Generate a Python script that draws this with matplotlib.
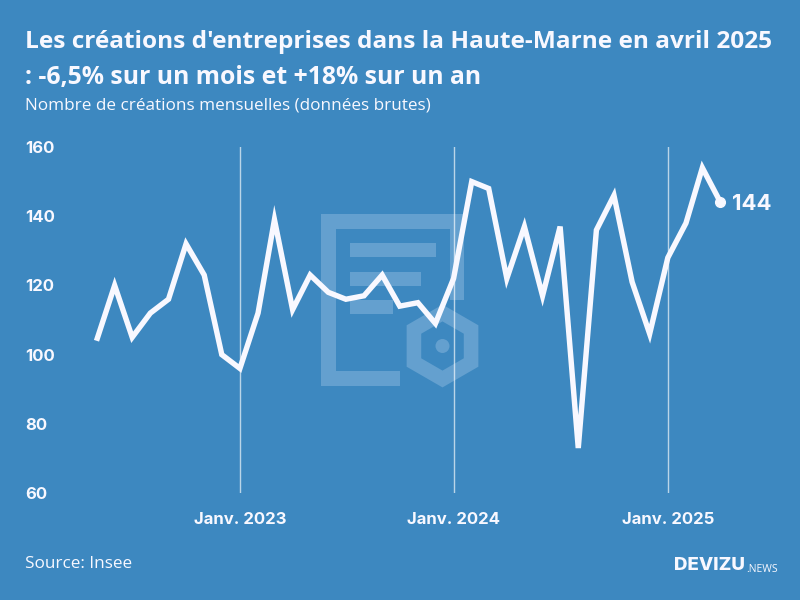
import pandas as pd
import matplotlib
matplotlib.use("Agg")
import matplotlib.pyplot as plt
from matplotlib.patches import Rectangle, RegularPolygon, Circle

months = pd.date_range("2022-05-01", periods=36, freq="MS")
creations = [104, 120, 105, 112, 116, 132, 123, 100, 96, 112, 139, 113,
             123, 118, 116, 117, 123, 114, 115, 109, 122, 150, 148, 122,
             137, 117, 137, 73, 136, 146, 121, 106, 128, 138, 154, 144]
y_ticks = [60, 80, 100, 120, 140, 160]
x_ticks = pd.to_datetime(["2023-01-01", "2024-01-01", "2025-01-01"])
x_labels = ["Janv. 2023", "Janv. 2024", "Janv. 2025"]

BG = "#3d88c0"
MARK = "#64a0cf"
WHITE = "#f8f8ff"
plt.rcParams["font.family"] = "Open Sans"

fig = plt.figure(figsize=(8, 6), dpi=100, facecolor=BG)

# watermark, in pixel coordinates
bg = fig.add_axes([0, 0, 1, 1])
bg.set_xlim(0, 800)
bg.set_ylim(600, 0)
bg.axis("off")
for x, y, w, h in [(321, 214, 143, 14.5), (321, 214, 14.5, 171), (321, 371, 79, 14.5),
                   (450, 214, 14, 86), (350, 243, 86, 14), (350, 271.5, 71, 14),
                   (350, 300, 43, 14)]:
    bg.add_patch(Rectangle((x, y), w, h, fc=MARK, ec="none"))
bg.add_patch(RegularPolygon((442.5, 346), 6, radius=33, fc="none", ec=MARK, lw=10.5, joinstyle="miter"))
bg.add_patch(Circle((442.5, 346), 7, fc=MARK, ec="none"))

ax = fig.add_axes([96.5 / 800, 1 - 493 / 600, 624 / 800, 346 / 600])
ax.patch.set_alpha(0)
ax.plot(months, creations, color=WHITE, lw=3.9, solid_joinstyle="miter", solid_capstyle="butt", clip_on=False, zorder=3)
ax.plot(months[-1], creations[-1], "o", color=WHITE, ms=7, clip_on=False, zorder=4)
ax.set_xlim(months[0], months[-1])
ax.set_ylim(60, 160)
ax.set_xticks(x_ticks, x_labels)
ax.set_yticks(y_ticks)
ax.grid(axis="x", color="white", alpha=0.65, lw=1)
ax.grid(axis="y", visible=False)
ax.tick_params(length=0)
ax.tick_params(axis="x", pad=13.5, labelsize=12, labelcolor=WHITE)
ax.tick_params(axis="y", pad=51, labelsize=12, labelcolor=WHITE)
for lab in ax.get_xticklabels() + ax.get_yticklabels():
    lab.set_family("Inter")
    lab.set_fontweight("bold")
for lab in ax.get_yticklabels():
    lab.set_ha("left")
for s in ax.spines.values():
    s.set_visible(False)

ax.annotate(str(creations[-1]), (months[-1], creations[-1]), xytext=(8.5, -1.5), textcoords="offset points",
            color=WHITE, fontsize=16, fontweight="bold", family="Inter", va="center", annotation_clip=False)

fig.text(25 / 800, 1 - 41.5 / 600, "Les créations d'entreprises dans la Haute-Marne en avril 2025",
         color=WHITE, fontsize=17.6, fontweight="bold", va="center")
fig.text(25 / 800, 1 - 77.5 / 600, ": -6,5% sur un mois et +18% sur un an",
         color=WHITE, fontsize=17.8, fontweight="bold", va="center")
fig.text(25 / 800, 1 - 106 / 600, "Nombre de créations mensuelles (données brutes)",
         color=WHITE, fontsize=12.3, va="center")
fig.text(25 / 800, 1 - 564 / 600, "Source: Insee", color=WHITE, fontsize=12.3, va="center")
fig.text(674 / 800, 1 - 566 / 600, "DEVIZU", color=WHITE, fontsize=13.5, fontweight="heavy", family="Inter", va="center")
fig.text(746 / 800, 1 - 570 / 600, ".NEWS", color=WHITE, fontsize=7.5, va="center")

fig.savefig("out.png", dpi=100, facecolor=BG)
